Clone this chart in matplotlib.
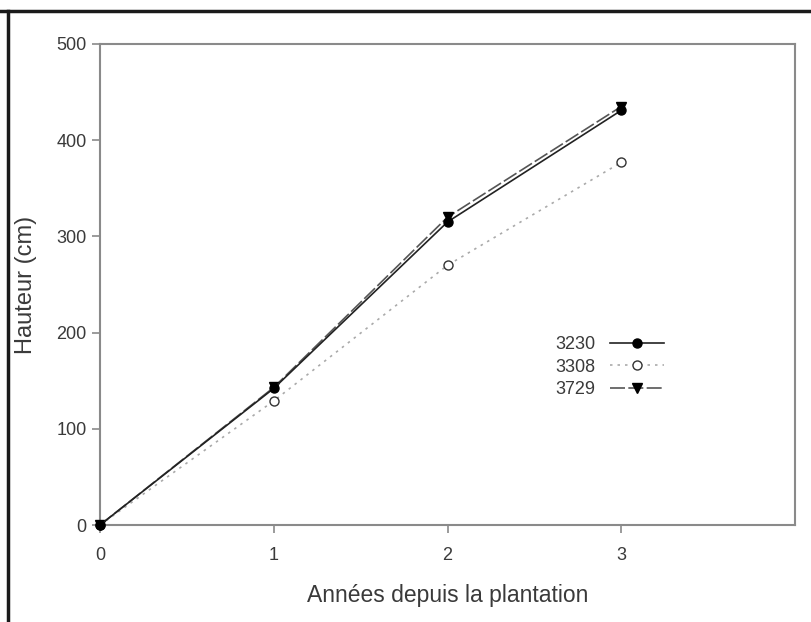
import matplotlib
matplotlib.use("Agg")
import matplotlib.pyplot as plt
from matplotlib.lines import Line2D

plt.rcParams['font.family'] = ['Liberation Sans', 'DejaVu Sans']

years = [0, 1, 2, 3]
h_3230 = [0, 142, 315, 431]
h_3308 = [0, 129, 270, 377]
h_3729 = [0, 143, 320, 435]
x_ticks = [0, 1, 2, 3]
y_ticks = [0, 100, 200, 300, 400, 500]

txt = '#3a3a3a'
axc = '#8a8a8a'

fig = plt.figure(figsize=(8.11, 6.22), dpi=100)
ax = fig.add_axes([100/811, 1 - 525/622, 695/811, 481/622])

ax.plot(years, h_3230, color='#222222', ls='-', lw=1.2, marker='o',
        ms=6.5, mfc='black', mec='black', label='3230', clip_on=False, zorder=4)
ax.plot(years, h_3308, color='#aaaaaa', ls=(0, (1.5, 3)), lw=1.2, marker='o',
        ms=6.5, mfc='white', mec='#333333', label='3308', clip_on=False, zorder=3)
ax.plot(years, h_3729, color='#555555', ls=(0, (9, 2)), lw=1.2, marker='v',
        ms=6.5, mfc='black', mec='black', label='3729', clip_on=False, zorder=3)

ax.set_xlim(0, 4)
ax.set_ylim(0, 500)
ax.set_xticks(x_ticks)
ax.set_yticks(y_ticks)
for s in ax.spines.values():
    s.set_color(axc)
    s.set_linewidth(1.5)
ax.tick_params(direction='out', length=6, width=1.2, color=axc,
               labelsize=13, labelcolor=txt)
ax.tick_params(axis='x', pad=10)

ax.set_xlabel('Années depuis la plantation', fontsize=16.5, color=txt, labelpad=14)
ax.set_ylabel('Hauteur (cm)', fontsize=17, color=txt, labelpad=14)

leg = ax.legend(loc='center', bbox_to_anchor=(610/811, 1 - 367/622),
                bbox_transform=fig.transFigure, frameon=False, markerfirst=False,
                fontsize=13, handlelength=3.0, labelspacing=0.3,
                handletextpad=0.8)
for t in leg.get_texts():
    t.set_color(txt)

# outer frame (top and left only, the image is cropped)
fig.add_artist(Line2D([0, 1], [1 - 11/622, 1 - 11/622], transform=fig.transFigure,
                      color='#1a1a1a', lw=2.5))
fig.add_artist(Line2D([8/811, 8/811], [0, 1 - 11/622], transform=fig.transFigure,
                      color='#1a1a1a', lw=2.5))

fig.savefig('out.png', dpi=100)
